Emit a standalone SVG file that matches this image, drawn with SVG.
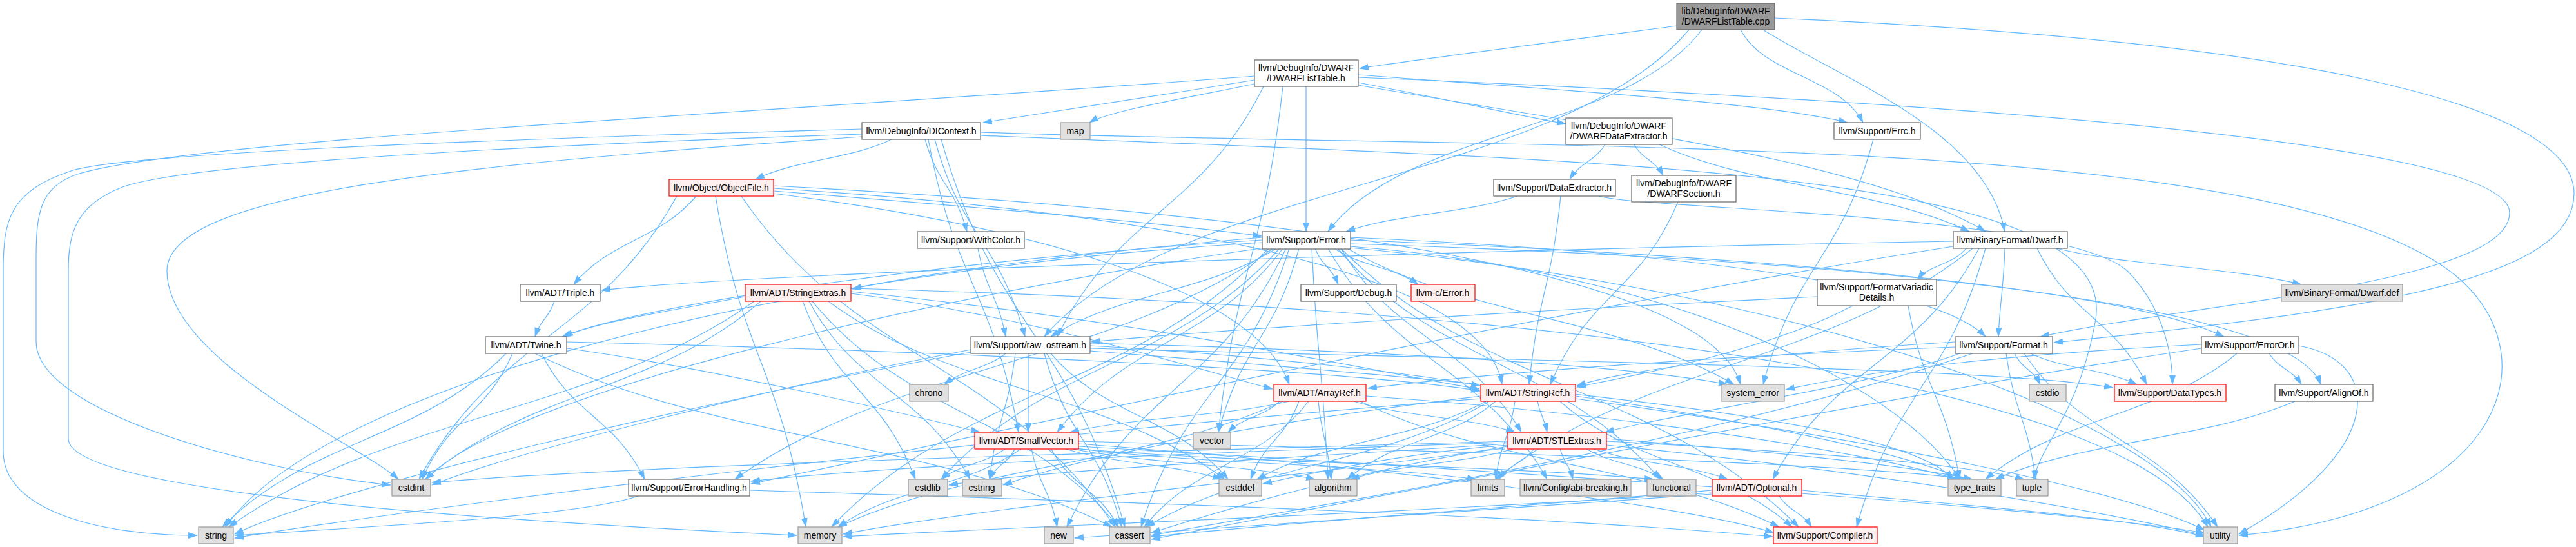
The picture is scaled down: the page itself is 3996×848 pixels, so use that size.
<svg xmlns="http://www.w3.org/2000/svg" width="3996" height="848" viewBox="0 0 3996 848">
<defs>
<marker id="ah" markerWidth="15" markerHeight="10" refX="14" refY="5" orient="auto" markerUnits="userSpaceOnUse"><path d="M0,0 L15,5 L0,10 z" fill="#63b8ff"/></marker>
<style>
.edges path{fill:none;stroke:#63b8ff;stroke-width:1.2;marker-end:url(#ah)}
.n rect{fill:#ffffff;stroke:#666666;stroke-width:1.2}
.g rect{fill:#e0e0e0;stroke:#999999;stroke-width:1.2}
.r rect{fill:#fff0f0;stroke:#ff0000;stroke-width:1.2}
.root rect{fill:#999999;stroke:#666666;stroke-width:1.2}
text{font-family:"Liberation Sans",Arial,sans-serif;font-size:14px;fill:#000000;text-anchor:middle}
</style>
</defs>
<rect width="3996" height="848" fill="#ffffff"/>
<g id="edges" class="edges">
<path d="M2601,40 C2420,64 2230,88 2109,106"/>
<path d="M2700,46 C2738,118 2852,118 2890,190"/>
<path d="M2640,46 C2524,202 2176,202 2060,359"/>
<path d="M2620,46 C2420,284 1820,284 1620,522"/>
<path d="M2735,46 C2850,120 3080,200 3110,359"/>
<path d="M2753,28 C3500,60 3993,150 3993,300 C3993,430 3700,480 3186,531"/>
<path d="M1946,124 C1800,148 1640,172 1525,190"/>
<path d="M1946,130 C1850,150 1720,172 1690,190"/>
<path d="M2107,128 C2250,155 2350,178 2429,192"/>
<path d="M2107,116 C2400,138 2750,160 2866,190"/>
<path d="M2026,134 L2026,359"/>
<path d="M2107,132 C2500,200 2900,250 3080,359"/>
<path d="M2107,120 C3200,165 3893,230 3893,330 C3893,440 3400,470 3165,522"/>
<path d="M1990,134 C1960,402 1920,402 1890,670"/>
<path d="M1960,134 C1864,328 1736,328 1640,522"/>
<path d="M1946,118 C1200,175 300,215 120,270 C62,290 56,330 56,400 L56,530 C56,640 400,730 606,752"/>
<path d="M1383,216 C1320,247 1235,247 1172,278"/>
<path d="M1435,216 C1455,287 1480,287 1500,359"/>
<path d="M1450,216 C1492,369 1548,369 1590,522"/>
<path d="M1440,216 C1482,443 1538,443 1580,670"/>
<path d="M1460,216 C1546,516 1659,516 1745,817"/>
<path d="M1337,200 C900,212 200,235 110,265 C15,297 5,340 5,420 L5,700 C5,790 150,830 306,830"/>
<path d="M1337,212 C700,255 259,300 259,420 C259,560 560,690 618,743"/>
<path d="M1337,208 C900,222 300,250 190,290 C118,318 106,360 106,420 L106,680 C106,760 700,805 1236,830"/>
<path d="M1521,210 C2500,250 3300,260 3250,500 C3225,640 3165,690 3155,743"/>
<path d="M1521,205 C2400,235 3500,200 3800,420 C3960,540 3900,790 3473,830"/>
<path d="M1080,304 C1023,372 947,372 890,441"/>
<path d="M1200,296 C1500,320 1800,345 1957,366"/>
<path d="M1200,300 C1600,350 1950,450 2000,596"/>
<path d="M1200,292 C1800,330 2300,420 2330,596"/>
<path d="M1200,288 C2000,330 2650,420 2700,596"/>
<path d="M1050,304 C930,522 770,522 650,743"/>
<path d="M1110,304 C1152,560 1208,560 1250,817"/>
<path d="M1150,304 C1324,560 1556,560 1730,817"/>
<path d="M2490,224 C2474,250 2451,252 2435,278"/>
<path d="M2535,224 C2548,247 2567,248 2580,272"/>
<path d="M2574,224 C2718,291 2911,291 3055,359"/>
<path d="M2603,313 C2544,454 2464,454 2405,596"/>
<path d="M2354,304 C2274,331 2168,331 2088,359"/>
<path d="M2421,304 C2406,450 2387,450 2372,596"/>
<path d="M2480,304 C2550,325 3200,330 3300,420 C3350,470 3370,540 3370,596"/>
<path d="M2906,216 C2855,406 2786,406 2735,596"/>
<path d="M1517,385 C1530,454 1547,454 1560,522"/>
<path d="M2070,385 C2109,413 2161,413 2200,441"/>
<path d="M2040,385 C2051,413 2065,413 2076,441"/>
<path d="M2080,385 C2164,528 2276,528 2360,670"/>
<path d="M1990,385 C1885,528 1745,528 1640,670"/>
<path d="M1958,368 C1700,390 1450,420 1322,448"/>
<path d="M1958,372 C1500,400 1000,470 872,522"/>
<path d="M2060,385 C2162,564 2298,564 2400,743"/>
<path d="M2094,378 C2800,400 3550,460 3600,596"/>
<path d="M2080,385 C2293,601 2577,601 2790,817"/>
<path d="M1975,385 C1725,564 1390,564 1140,743"/>
<path d="M2094,372 C2800,400 3300,450 3450,522"/>
<path d="M2094,368 C2600,390 3000,440 3080,522"/>
<path d="M1980,385 C1871,454 1734,454 1630,522"/>
<path d="M2035,385 C2043,564 2052,564 2060,743"/>
<path d="M2000,385 C1931,601 1839,601 1770,817"/>
<path d="M1962,384 C1500,450 800,600 660,743"/>
<path d="M1985,385 C1827,564 1618,564 1460,743"/>
<path d="M2075,385 C2225,564 2425,564 2575,743"/>
<path d="M1968,385 C1765,601 1493,601 1290,817"/>
<path d="M1995,385 C1893,601 1757,601 1655,817"/>
<path d="M1958,376 C1200,420 500,600 350,817"/>
<path d="M2090,385 C2270,491 2510,491 2690,596"/>
<path d="M2094,382 C2600,420 2950,600 3040,743"/>
<path d="M2094,384 C2800,450 3350,650 3430,817"/>
<path d="M2015,385 C1977,528 1928,528 1890,670"/>
<path d="M3070,385 C2974,564 2846,564 2750,743"/>
<path d="M3080,385 C3020,601 2940,601 2880,817"/>
<path d="M3160,385 C3211,491 3279,491 3330,596"/>
<path d="M3030,382 C2400,480 1500,680 1165,750"/>
<path d="M3110,385 C3108,450 3102,470 3100,522"/>
<path d="M3050,385 C3030,410 2990,412 2975,433"/>
<path d="M3030,374 C2400,385 1200,420 933,450"/>
<path d="M3060,385 C2838,564 2542,564 2320,743"/>
<path d="M3190,385 C3304,413 3456,413 3570,441"/>
<path d="M860,467 C851,494 839,494 830,522"/>
<path d="M1320,455 C1600,490 1850,570 1974,603"/>
<path d="M1320,452 C1800,500 2150,580 2295,603"/>
<path d="M1156,460 C1050,480 920,500 875,522"/>
<path d="M1260,467 C1402,642 1593,642 1735,817"/>
<path d="M1285,467 C1469,605 1716,605 1900,743"/>
<path d="M1180,467 C1024,605 816,605 660,743"/>
<path d="M1245,467 C1297,605 1368,605 1420,743"/>
<path d="M1255,467 C1330,605 1430,605 1505,743"/>
<path d="M1170,467 C926,642 599,642 355,817"/>
<path d="M1320,447 C2500,480 3300,600 3425,817"/>
<path d="M2874,474 C2750,540 2550,580 2446,600"/>
<path d="M2819,460 C2400,480 1900,510 1693,530"/>
<path d="M2960,474 C2984,608 3016,608 3040,743"/>
<path d="M879,540 C1100,570 1400,640 1520,670"/>
<path d="M879,530 C1500,545 2100,575 2296,606"/>
<path d="M840,548 C888,645 952,645 1000,743"/>
<path d="M830,548 C1098,682 1457,682 1725,817"/>
<path d="M795,548 C753,645 697,645 655,743"/>
<path d="M785,548 C653,682 477,682 345,817"/>
<path d="M1595,548 L1595,670"/>
<path d="M1691,536 C1950,550 2200,580 2296,598"/>
<path d="M1691,540 C2400,560 3100,570 3278,601"/>
<path d="M1620,548 C1656,682 1704,682 1740,817"/>
<path d="M1560,548 C1530,572 1495,572 1465,596"/>
<path d="M1630,548 C1712,645 1823,645 1905,743"/>
<path d="M1506,542 C1200,600 800,700 670,752"/>
<path d="M1575,548 C1563,645 1547,645 1535,743"/>
<path d="M1506,546 C1100,620 500,760 364,828"/>
<path d="M1691,532 C2200,545 2550,570 2680,596"/>
<path d="M1691,544 C2400,600 2950,650 3030,743"/>
<path d="M3033,538 C2600,555 2300,580 2122,602"/>
<path d="M3040,548 C2900,600 2600,640 2490,670"/>
<path d="M3033,530 C2800,545 2550,565 2446,598"/>
<path d="M3150,548 C3200,572 3265,572 3315,596"/>
<path d="M3060,548 C2600,700 2000,790 1786,830"/>
<path d="M3125,548 C3137,572 3153,572 3165,596"/>
<path d="M3112,548 C3126,645 3144,645 3158,743"/>
<path d="M3140,548 C3230,682 3350,682 3440,817"/>
<path d="M3520,548 C3535,572 3555,572 3570,596"/>
<path d="M3415,540 C3000,600 2200,760 1786,836"/>
<path d="M3415,534 C3100,550 2900,575 2770,604"/>
<path d="M3470,548 C3353,645 3197,645 3080,743"/>
<path d="M3566,536 C3700,560 3700,700 3473,828"/>
<path d="M3560,622 C3420,682 3235,682 3095,743"/>
<path d="M2000,622 C1898,646 1762,646 1660,670"/>
<path d="M2100,622 C2175,646 2275,646 2350,670"/>
<path d="M2110,622 C2305,720 2565,720 2760,817"/>
<path d="M2045,622 C2051,682 2059,682 2065,743"/>
<path d="M2030,622 C1954,720 1851,720 1775,817"/>
<path d="M2015,622 C1993,682 1962,682 1940,743"/>
<path d="M1990,622 C1783,720 1507,720 1300,817"/>
<path d="M2119,614 C2500,640 2900,700 3035,743"/>
<path d="M1985,622 C1961,646 1929,646 1905,670"/>
<path d="M2385,622 C2390,646 2395,646 2400,670"/>
<path d="M2420,622 C2528,720 2672,720 2780,817"/>
<path d="M2320,622 C2251,682 2159,682 2090,743"/>
<path d="M2310,622 C2150,720 1938,720 1778,817"/>
<path d="M2305,622 C2199,682 2056,682 1950,743"/>
<path d="M2297,614 C2000,650 1700,700 1556,752"/>
<path d="M2350,622 C2341,682 2329,682 2320,743"/>
<path d="M2297,618 C1500,680 700,780 364,834"/>
<path d="M2444,614 C2700,650 2950,700 3045,743"/>
<path d="M2444,618 C2900,680 3300,760 3420,822"/>
<path d="M1673,688 C2100,720 2600,780 2752,826"/>
<path d="M1660,695 C1774,719 1926,719 2040,743"/>
<path d="M1630,695 C1662,756 1703,756 1735,817"/>
<path d="M1650,695 C1724,719 1821,719 1895,743"/>
<path d="M1560,695 C1530,719 1490,719 1460,743"/>
<path d="M1575,695 C1563,719 1547,719 1535,743"/>
<path d="M1665,695 C1933,719 2292,719 2565,743"/>
<path d="M1668,695 C1855,719 2103,719 2290,743"/>
<path d="M1585,695 C1500,756 1385,756 1300,817"/>
<path d="M1600,695 C1612,756 1628,756 1640,817"/>
<path d="M1673,684 C2300,700 2900,720 3050,743"/>
<path d="M1673,692 C2500,740 3200,790 3420,826"/>
<path d="M2470,695 C2533,719 2617,719 2680,743"/>
<path d="M2420,695 C2426,719 2434,719 2440,743"/>
<path d="M2339,686 C1900,700 1400,720 1165,746"/>
<path d="M2350,695 C2274,719 2172,719 2095,743"/>
<path d="M2339,692 C2100,730 1900,790 1786,826"/>
<path d="M2339,690 C2200,700 2050,730 1959,750"/>
<path d="M2339,684 C1800,700 1000,720 670,748"/>
<path d="M2339,688 C2000,710 1600,730 1472,752"/>
<path d="M2460,695 C2496,719 2544,719 2580,743"/>
<path d="M2380,695 C2363,719 2342,719 2325,743"/>
<path d="M2339,694 C2000,740 1500,790 1308,828"/>
<path d="M2492,684 C2800,700 3050,720 3140,743"/>
<path d="M2492,680 C2750,700 2950,720 3060,743"/>
<path d="M2492,690 C2900,730 3250,790 3420,830"/>
<path d="M2760,769 C2775,793 2795,793 2810,817"/>
<path d="M2656,760 C2300,790 2000,810 1786,832"/>
<path d="M2656,764 C2100,800 1600,815 1308,832"/>
<path d="M2656,766 C2200,800 1900,815 1667,834"/>
<path d="M2795,760 C3000,780 3300,800 3420,832"/>
<path d="M1163,760 C1800,780 2400,800 2750,832"/>
<path d="M990,769 C900,800 600,815 364,830"/>
</g>
<g id="node-root" class="root"><rect x="2601" y="5" width="152" height="41"/><text x="2677" y="22">lib/DebugInfo/DWARF</text><text x="2677" y="38">/DWARFListTable.cpp</text></g>
<g id="node-listtable" class="n"><rect x="1946" y="93" width="161" height="41"/><text x="2026" y="110">llvm/DebugInfo/DWARF</text><text x="2026" y="126">/DWARFListTable.h</text></g>
<g id="node-dicontext" class="n"><rect x="1337" y="190" width="184" height="26"/><text x="1429" y="208">llvm/DebugInfo/DIContext.h</text></g>
<g id="node-map" class="g"><rect x="1645" y="190" width="46" height="26"/><text x="1668" y="208">map</text></g>
<g id="node-dwarfdataextractor" class="n"><rect x="2429" y="183" width="165" height="41"/><text x="2511" y="200">llvm/DebugInfo/DWARF</text><text x="2511" y="216">/DWARFDataExtractor.h</text></g>
<g id="node-errc" class="n"><rect x="2845" y="190" width="134" height="26"/><text x="2912" y="208">llvm/Support/Errc.h</text></g>
<g id="node-objectfile" class="r"><rect x="1038" y="278" width="162" height="26"/><text x="1119" y="296">llvm/Object/ObjectFile.h</text></g>
<g id="node-dataextractor" class="n"><rect x="2317" y="278" width="189" height="26"/><text x="2411" y="296">llvm/Support/DataExtractor.h</text></g>
<g id="node-dwarfsection" class="n"><rect x="2531" y="272" width="162" height="41"/><text x="2612" y="289">llvm/DebugInfo/DWARF</text><text x="2612" y="305">/DWARFSection.h</text></g>
<g id="node-withcolor" class="n"><rect x="1423" y="359" width="166" height="26"/><text x="1506" y="377">llvm/Support/WithColor.h</text></g>
<g id="node-error" class="n"><rect x="1958" y="359" width="137" height="27"/><text x="2026" y="377">llvm/Support/Error.h</text></g>
<g id="node-dwarf" class="n"><rect x="3030" y="359" width="177" height="26"/><text x="3118" y="377">llvm/BinaryFormat/Dwarf.h</text></g>
<g id="node-triple" class="n"><rect x="807" y="441" width="124" height="26"/><text x="869" y="459">llvm/ADT/Triple.h</text></g>
<g id="node-stringextras" class="r"><rect x="1156" y="441" width="164" height="26"/><text x="1238" y="459">llvm/ADT/StringExtras.h</text></g>
<g id="node-debug" class="n"><rect x="2018" y="441" width="148" height="26"/><text x="2092" y="459">llvm/Support/Debug.h</text></g>
<g id="node-cerror" class="r"><rect x="2189" y="441" width="99" height="26"/><text x="2238" y="459">llvm-c/Error.h</text></g>
<g id="node-formatvariadic" class="n"><rect x="2819" y="433" width="185" height="41"/><text x="2911" y="450">llvm/Support/FormatVariadic</text><text x="2911" y="466">Details.h</text></g>
<g id="node-dwarfdef" class="g"><rect x="3539" y="441" width="188" height="26"/><text x="3633" y="459">llvm/BinaryFormat/Dwarf.def</text></g>
<g id="node-twine" class="n"><rect x="753" y="522" width="126" height="26"/><text x="816" y="540">llvm/ADT/Twine.h</text></g>
<g id="node-rawostream" class="n"><rect x="1506" y="522" width="185" height="26"/><text x="1598" y="540">llvm/Support/raw_ostream.h</text></g>
<g id="node-format" class="n"><rect x="3033" y="522" width="151" height="26"/><text x="3108" y="540">llvm/Support/Format.h</text></g>
<g id="node-erroror" class="n"><rect x="3415" y="522" width="151" height="26"/><text x="3490" y="540">llvm/Support/ErrorOr.h</text></g>
<g id="node-chrono" class="g"><rect x="1411" y="596" width="60" height="26"/><text x="1441" y="614">chrono</text></g>
<g id="node-arrayref" class="r"><rect x="1976" y="596" width="143" height="26"/><text x="2047" y="614">llvm/ADT/ArrayRef.h</text></g>
<g id="node-stringref" class="r"><rect x="2297" y="596" width="147" height="26"/><text x="2370" y="614">llvm/ADT/StringRef.h</text></g>
<g id="node-systemerror" class="g"><rect x="2671" y="596" width="97" height="26"/><text x="2719" y="614">system_error</text></g>
<g id="node-cstdio" class="g"><rect x="3148" y="596" width="57" height="26"/><text x="3176" y="614">cstdio</text></g>
<g id="node-datatypes" class="r"><rect x="3280" y="596" width="173" height="26"/><text x="3366" y="614">llvm/Support/DataTypes.h</text></g>
<g id="node-alignof" class="n"><rect x="3529" y="596" width="152" height="26"/><text x="3605" y="614">llvm/Support/AlignOf.h</text></g>
<g id="node-smallvector" class="r"><rect x="1512" y="670" width="161" height="26"/><text x="1592" y="688">llvm/ADT/SmallVector.h</text></g>
<g id="node-vector" class="g"><rect x="1851" y="670" width="58" height="26"/><text x="1880" y="688">vector</text></g>
<g id="node-stlextras" class="r"><rect x="2339" y="670" width="153" height="26"/><text x="2415" y="688">llvm/ADT/STLExtras.h</text></g>
<g id="node-cstdint" class="g"><rect x="608" y="743" width="60" height="26"/><text x="638" y="761">cstdint</text></g>
<g id="node-errorhandling" class="n"><rect x="975" y="743" width="188" height="26"/><text x="1069" y="761">llvm/Support/ErrorHandling.h</text></g>
<g id="node-cstdlib" class="g"><rect x="1409" y="743" width="61" height="26"/><text x="1439" y="761">cstdlib</text></g>
<g id="node-cstring" class="g"><rect x="1493" y="743" width="61" height="26"/><text x="1523" y="761">cstring</text></g>
<g id="node-cstddef" class="g"><rect x="1891" y="743" width="66" height="26"/><text x="1924" y="761">cstddef</text></g>
<g id="node-algorithm" class="g"><rect x="2031" y="743" width="74" height="26"/><text x="2068" y="761">algorithm</text></g>
<g id="node-limits" class="g"><rect x="2282" y="743" width="52" height="26"/><text x="2308" y="761">limits</text></g>
<g id="node-abibreaking" class="g"><rect x="2358" y="743" width="172" height="26"/><text x="2444" y="761">llvm/Config/abi-breaking.h</text></g>
<g id="node-functional" class="g"><rect x="2555" y="743" width="76" height="26"/><text x="2593" y="761">functional</text></g>
<g id="node-optional" class="r"><rect x="2656" y="743" width="139" height="26"/><text x="2725" y="761">llvm/ADT/Optional.h</text></g>
<g id="node-typetraits" class="g"><rect x="3022" y="743" width="82" height="26"/><text x="3063" y="761">type_traits</text></g>
<g id="node-tuple" class="g"><rect x="3128" y="743" width="49" height="26"/><text x="3152" y="761">tuple</text></g>
<g id="node-string" class="g"><rect x="308" y="817" width="54" height="26"/><text x="335" y="835">string</text></g>
<g id="node-memory" class="g"><rect x="1238" y="817" width="68" height="26"/><text x="1272" y="835">memory</text></g>
<g id="node-new" class="g"><rect x="1620" y="817" width="45" height="26"/><text x="1642" y="835">new</text></g>
<g id="node-cassert" class="g"><rect x="1721" y="817" width="63" height="26"/><text x="1752" y="835">cassert</text></g>
<g id="node-compiler" class="r"><rect x="2751" y="817" width="161" height="26"/><text x="2831" y="835">llvm/Support/Compiler.h</text></g>
<g id="node-utility" class="g"><rect x="3418" y="817" width="53" height="26"/><text x="3444" y="835">utility</text></g>
</svg>
